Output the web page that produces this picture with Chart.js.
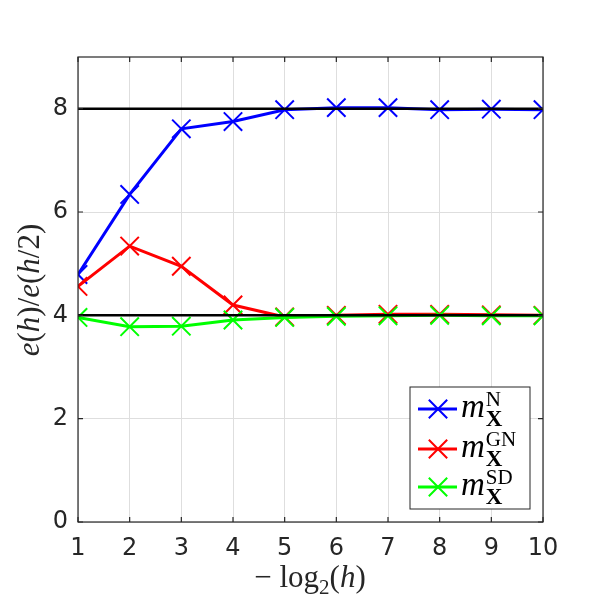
<!DOCTYPE html>
<html>
<head>
<meta charset="utf-8">
<script src="https://cdn.jsdelivr.net/npm/chart.js@4"></script>
<style>
  html, body { margin: 0; padding: 0; background: #fff; }
  #wrap { width: 600px; height: 600px; }
</style>
</head>
<body>
<div id="wrap"><canvas id="plot" width="600" height="600"></canvas></div>
<script>
// data
var steps = [1, 2, 3, 4, 5, 6, 7, 8, 9, 10];
var ratioN  = [4.79, 6.34, 7.61, 7.75, 7.98, 8.02, 8.02, 7.98, 7.99, 7.98];
var ratioGN = [4.56, 5.34, 4.95, 4.20, 3.97, 4.00, 4.02, 4.02, 4.01, 4.00];
var ratioSD = [3.96, 3.78, 3.79, 3.91, 3.96, 3.98, 3.99, 4.00, 3.99, 3.99];
var refLevels = [8, 4];
var seriesSup = ["N", "GN", "SD"];

var tickColor = "#262626";
var serif = "'Liberation Serif', 'DejaVu Serif', serif";

function pts(vals) {
  return steps.map(function (x, i) { return { x: x, y: vals[i] }; });
}
function refLine(level) {
  return [{ x: steps[0], y: level }, { x: steps[steps.length - 1], y: level }];
}

function series(vals, color, order, sup) {
  return {
    label: sup,
    data: pts(vals),
    borderColor: color,
    backgroundColor: color,
    borderWidth: 3,
    pointStyle: "crossRot",
    pointRadius: 13,
    pointBorderWidth: 2,
    pointBorderColor: color,
    order: order
  };
}

var datasets = refLevels.map(function (lv) {
  return {
    label: "ref" + lv,
    data: refLine(lv),
    borderColor: "#000",
    borderWidth: 2.5,
    pointRadius: 0,
    order: 0
  };
});
datasets.push(series(ratioSD, "#00ff00", 1, seriesSup[2]));
datasets.push(series(ratioGN, "#ff0000", 2, seriesSup[1]));
datasets.push(series(ratioN, "#0000ff", 3, seriesSup[0]));

// draws a run of [text, font, dy] pieces starting at x
function drawRuns(ctx, runs, x, y) {
  runs.forEach(function (r) {
    ctx.font = r[1];
    ctx.fillText(r[0], x, y + (r[2] || 0));
    x += ctx.measureText(r[0]).width;
  });
  return x;
}
function runsWidth(ctx, runs) {
  var w = 0;
  runs.forEach(function (r) { ctx.font = r[1]; w += ctx.measureText(r[0]).width; });
  return w;
}

var decor = {
  id: "decor",
  afterDatasetsDraw: function (chart) {
    var ctx = chart.ctx, a = chart.chartArea;
    var xs = chart.scales.x, ys = chart.scales.y;
    ctx.save();
    // box
    ctx.strokeStyle = tickColor;
    ctx.lineWidth = 1.2;
    ctx.strokeRect(a.left, a.top, a.right - a.left, a.bottom - a.top);
    // inward ticks on all sides
    var tl = 5;
    ctx.beginPath();
    xs.ticks.forEach(function (t) {
      var p = xs.getPixelForValue(t.value);
      ctx.moveTo(p, a.bottom); ctx.lineTo(p, a.bottom - tl);
      ctx.moveTo(p, a.top); ctx.lineTo(p, a.top + tl);
    });
    ys.ticks.forEach(function (t) {
      var p = ys.getPixelForValue(t.value);
      ctx.moveTo(a.left, p); ctx.lineTo(a.left + tl, p);
      ctx.moveTo(a.right, p); ctx.lineTo(a.right - tl, p);
    });
    ctx.stroke();

    // axis titles
    ctx.fillStyle = tickColor;
    ctx.textBaseline = "alphabetic";
    var it = "italic 31px " + serif, up = "31px " + serif;
    var yRuns = [["e", it], ["(", up], ["h", it], [")/", up], ["e", it], ["(", up], ["h", it], ["/2)", up]];
    ctx.save();
    ctx.translate(39, 290);
    ctx.rotate(-Math.PI / 2);
    drawRuns(ctx, yRuns, -runsWidth(ctx, yRuns) / 2, 0);
    ctx.restore();

    var xRuns = [["\u2212 log", up], ["2", "21px " + serif, 7], ["(", up], ["h", it], [")", up]];
    drawRuns(ctx, xRuns, 310 - runsWidth(ctx, xRuns) / 2, 587);

    // legend
    var lx = 410, ly = 387, lw = 120, lh = 122;
    ctx.fillStyle = "#fff";
    ctx.fillRect(lx, ly, lw, lh);
    ctx.strokeStyle = tickColor;
    ctx.lineWidth = 1;
    ctx.strokeRect(lx, ly, lw, lh);
    var rows = [409, 449, 487];
    var order = [4, 3, 2];
    order.forEach(function (di, k) {
      var ds = chart.data.datasets[di], cy = rows[k];
      ctx.strokeStyle = ds.borderColor;
      ctx.lineWidth = 3;
      ctx.beginPath();
      ctx.moveTo(418, cy); ctx.lineTo(457, cy);
      ctx.stroke();
      ctx.lineWidth = 2;
      Chart.helpers.drawPoint(ctx, { pointStyle: "crossRot", radius: 13, rotation: 0, borderWidth: 2 }, 438, cy);
      ctx.fillStyle = "#000";
      var ex = drawRuns(ctx, [["m", "italic 33px " + serif]], 461, cy + 8);
      drawRuns(ctx, [[ds.label, "21px " + serif]], ex + 1, cy - 3);
      drawRuns(ctx, [["X", "bold 23px " + serif]], ex + 1, cy + 17);
    });
    ctx.restore();
  }
};

new Chart(document.getElementById("plot"), {
  type: "line",
  data: { datasets: datasets },
  options: {
    responsive: false,
    animation: false,
    layout: { padding: { top: 57, right: 57, left: 0, bottom: 0 } },
    plugins: { legend: { display: false }, tooltip: { enabled: false } },
    scales: {
      x: {
        type: "linear",
        min: 1,
        max: 10,
        afterFit: function (s) { s.height = 78; },
        ticks: { stepSize: 1, color: tickColor, padding: 12, font: { family: "DejaVu Sans", size: 24 } },
        grid: { color: "#dedede", drawTicks: false },
        border: { display: false }
      },
      y: {
        min: 0,
        max: 9,
        afterFit: function (s) { s.width = 78; },
        ticks: { stepSize: 2, includeBounds: false, color: tickColor, padding: 10, font: { family: "DejaVu Sans", size: 24 } },
        grid: { color: "#dedede", drawTicks: false },
        border: { display: false }
      }
    }
  },
  plugins: [decor]
});
</script>
</body>
</html>
